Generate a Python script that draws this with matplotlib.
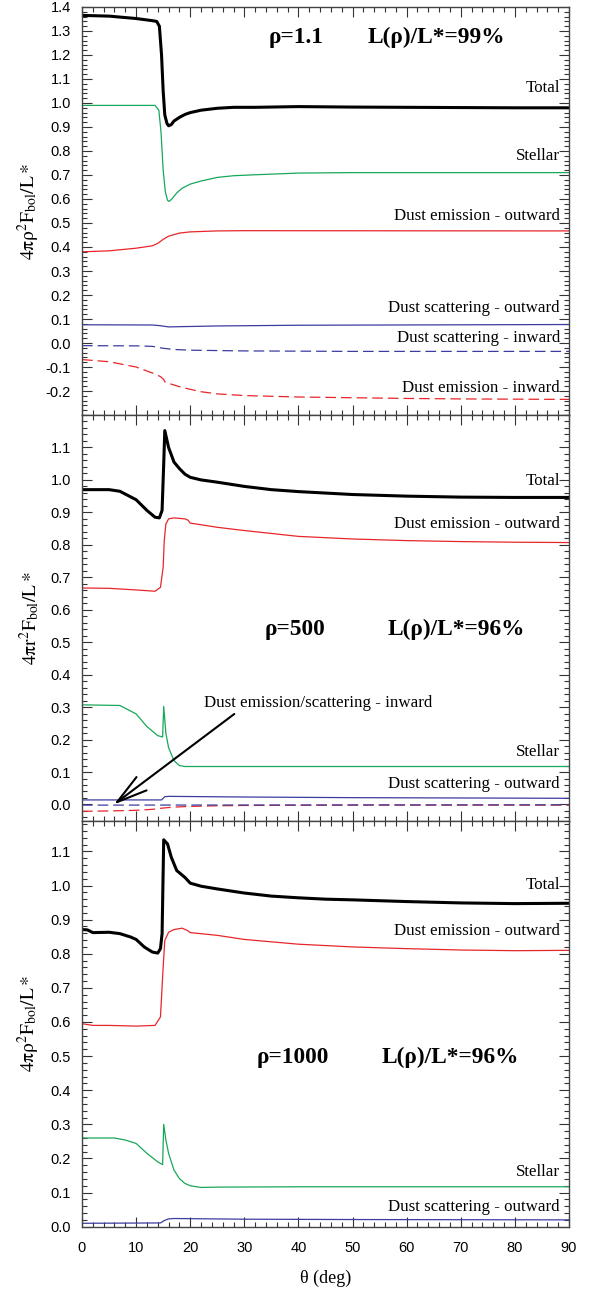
import matplotlib
matplotlib.use("Agg")
import matplotlib.pyplot as plt
from matplotlib.ticker import MultipleLocator

plt.rcParams['mathtext.fontset'] = 'stix'

# ---------------- Data: panel 1 (rho = 1.1) ----------------
p1_total_x = [0, 5, 10, 13, 13.8, 14.3, 14.7, 15.0, 15.3, 15.7, 16.0, 16.5, 17, 18, 19, 20, 22, 25, 28, 32, 40, 50, 60, 70, 80, 90]
p1_total_y = [1.365, 1.362, 1.352, 1.343, 1.34, 1.32, 1.2, 1.05, 0.95, 0.915, 0.905, 0.91, 0.925, 0.94, 0.952, 0.96, 0.97, 0.978, 0.982, 0.982, 0.985, 0.983, 0.982, 0.981, 0.98, 0.98]
p1_stellar_x = [0, 13.5, 14.2, 14.6, 15.0, 15.4, 15.8, 16.1, 16.6, 17.5, 18.5, 20, 22, 25, 28, 32, 40, 50, 60, 90]
p1_stellar_y = [0.99, 0.99, 0.97, 0.88, 0.72, 0.63, 0.595, 0.59, 0.6, 0.625, 0.645, 0.662, 0.675, 0.69, 0.697, 0.701, 0.708, 0.71, 0.71, 0.71]
p1_demo_x = [0, 5, 10, 13, 14, 15, 16, 18, 20, 25, 30, 90]
p1_demo_y = [0.38, 0.384, 0.395, 0.405, 0.415, 0.432, 0.445, 0.458, 0.463, 0.467, 0.468, 0.467]
p1_dsco_x = [0, 13, 14.5, 16, 18, 25, 40, 90]
p1_dsco_y = [0.076, 0.075, 0.072, 0.067, 0.068, 0.071, 0.074, 0.077]
p1_dsci_x = [0, 10, 13, 15, 17, 20, 30, 50, 90]
p1_dsci_y = [-0.011, -0.012, -0.014, -0.022, -0.027, -0.030, -0.033, -0.035, -0.035]
p1_demi_x = [0, 5, 10, 13, 14.5, 15.1, 15.3, 16, 18, 20, 22, 25, 30, 40, 50, 60, 70, 80, 90]
p1_demi_y = [-0.069, -0.078, -0.1, -0.125, -0.14, -0.152, -0.162, -0.168, -0.182, -0.193, -0.203, -0.212, -0.219, -0.225, -0.228, -0.231, -0.233, -0.234, -0.235]

# ---------------- Data: panel 2 (rho = 500) ----------------
p2_total_x = [0, 5, 7, 10, 12, 13.5, 14.3, 14.8, 15.1, 15.3, 16, 17, 18, 19, 20, 22, 25, 30, 35, 40, 50, 60, 70, 80, 90]
p2_total_y = [0.970, 0.970, 0.965, 0.939, 0.906, 0.885, 0.883, 0.906, 1.05, 1.152, 1.10, 1.055, 1.035, 1.018, 1.008, 1.0, 0.993, 0.98, 0.97, 0.964, 0.955, 0.950, 0.947, 0.946, 0.946]
p2_demo_x = [0, 5, 10, 13.5, 14.5, 15, 15.2, 15.5, 16, 17, 19, 19.6, 20, 25, 30, 40, 50, 60, 70, 80, 90]
p2_demo_y = [0.667, 0.666, 0.661, 0.657, 0.669, 0.731, 0.813, 0.864, 0.880, 0.883, 0.880, 0.876, 0.867, 0.854, 0.844, 0.826, 0.818, 0.813, 0.810, 0.808, 0.807]
p2_stellar_x = [0, 7, 10, 12, 14, 14.9, 15.1, 15.5, 16, 17, 18, 19, 20, 30, 90]
p2_stellar_y = [0.307, 0.305, 0.279, 0.240, 0.212, 0.208, 0.302, 0.22, 0.175, 0.135, 0.12, 0.117, 0.117, 0.117, 0.117]
p2_dsco_x = [0, 14.7, 15.3, 16, 30, 50, 90]
p2_dsco_y = [0.014, 0.014, 0.024, 0.025, 0.023, 0.021, 0.019]
p2_dsci_x = [0, 90]
p2_dsci_y = [-0.002, -0.001]
p2_demi_x = [0, 5, 10, 13, 15, 17, 20, 25, 30, 50, 90]
p2_demi_y = [-0.021, -0.020, -0.018, -0.015, -0.011, -0.008, -0.006, -0.004, -0.003, -0.002, -0.002]

# ---------------- Data: panel 3 (rho = 1000) ----------------
p3_total_x = [0, 1, 2, 5, 7, 9, 10, 11.5, 13, 14, 14.5, 14.8, 15.1, 15.8, 16.5, 17.5, 19, 20, 22, 25, 30, 35, 40, 45, 50, 60, 70, 80, 90]
p3_total_y = [0.871, 0.870, 0.862, 0.863, 0.859, 0.849, 0.842, 0.82, 0.805, 0.802, 0.815, 0.859, 1.134, 1.122, 1.083, 1.044, 1.024, 1.007, 0.998, 0.99, 0.978, 0.969, 0.964, 0.96, 0.958, 0.953, 0.949, 0.947, 0.948]
p3_demo_x = [0, 2, 5, 10, 13.5, 14.5, 15, 15.3, 16, 17, 18.5, 19.5, 20, 25, 30, 40, 50, 60, 70, 80, 90]
p3_demo_y = [0.595, 0.590, 0.590, 0.588, 0.59, 0.615, 0.761, 0.839, 0.863, 0.871, 0.875, 0.868, 0.862, 0.854, 0.842, 0.828, 0.820, 0.815, 0.811, 0.809, 0.810]
p3_stellar_x = [0, 6, 8, 10, 12, 14, 14.9, 15.1, 15.5, 16, 17, 18, 19, 20, 22, 25, 40, 60, 90]
p3_stellar_y = [0.26, 0.26, 0.254, 0.244, 0.215, 0.19, 0.182, 0.30, 0.254, 0.215, 0.166, 0.141, 0.127, 0.12, 0.115, 0.116, 0.117, 0.117, 0.117]
p3_dsco_x = [0, 14.5, 15.2, 16, 17, 30, 50, 90]
p3_dsco_y = [0.010, 0.011, 0.018, 0.023, 0.024, 0.022, 0.021, 0.020]

series_labels = ["Total", "Stellar", "Dust emission - outward", "Dust scattering - outward",
                 "Dust scattering - inward", "Dust emission - inward"]
panel_rho = ["\u03c1=1.1", "\u03c1=500", "\u03c1=1000"]
panel_lum = ["L(\u03c1)/L*=99%", "L(\u03c1)/L*=96%", "L(\u03c1)/L*=96%"]
ylabels = [r'$\mathrm{4\pi\rho^2F_{bol}/L*}$', r'$\mathrm{4\pi r^2F_{bol}/L*}$', r'$\mathrm{4\pi\rho^2F_{bol}/L*}$']
x_ticks = [0, 10, 20, 30, 40, 50, 60, 70, 80, 90]

# ---------------- Styles ----------------
BLACK = '#000000'
GREEN = '#17a85a'
RED = '#e8262a'
BLUE = '#3c3ca0'
SERIF = 'Liberation Serif'
SANS = 'Liberation Sans'
DASH = (0, (8.5, 4))
LAB_FS = 12.2
TITLE_FS = 16.8

fig = plt.figure(figsize=(6, 12.89), dpi=100)
L, W = 82 / 600, (569 - 82) / 600
H = 1289
axes = [
    fig.add_axes([L, 1 - 415 / H, W, (415 - 7) / H]),
    fig.add_axes([L, 1 - 820.7 / H, W, (820.7 - 415) / H]),
    fig.add_axes([L, 1 - 1226.7 / H, W, (1226.7 - 820.7) / H]),
]
ylims = [(-0.3, 1.4), (-0.05, 1.2), (0.0, 1.19)]
yticks = [[-0.2 + 0.1 * i for i in range(17)], [0.1 * i for i in range(12)], [0.1 * i for i in range(12)]]

for i, ax in enumerate(axes):
    ax.set_xlim(0, 90)
    ax.set_ylim(*ylims[i])
    ax.set_xticks(x_ticks)
    ax.xaxis.set_minor_locator(MultipleLocator(2))
    ax.set_yticks(yticks[i])
    ax.yaxis.set_minor_locator(MultipleLocator(0.02))
    ax.set_yticklabels(["%.1f" % v if abs(v) > 1e-9 else "0.0" for v in yticks[i]],
                       fontfamily=SANS, fontsize=10.5)
    ax.tick_params(which='both', direction='in', top=True, right=True, color='#333333', width=0.8)
    ax.tick_params(which='major', length=7)
    ax.tick_params(which='minor', length=3.5)
    ax.tick_params(axis='y', pad=8)
    ax.tick_params(axis='x', pad=10)
    for s in ax.spines.values():
        s.set_color('#444444')
        s.set_linewidth(1.0)
    if i < 2:
        ax.set_xticklabels([])
    else:
        ax.set_xticklabels([str(v) for v in x_ticks], fontfamily=SANS, fontsize=10.5)
    ax.set_ylabel(ylabels[i], fontsize=14)
    ax.yaxis.set_label_coords(-0.083, 0.5)

# Panel 1
a = axes[0]
a.plot(p1_total_x, p1_total_y, color=BLACK, lw=2.2)
a.plot(p1_stellar_x, p1_stellar_y, color=GREEN, lw=0.9)
a.plot(p1_demo_x, p1_demo_y, color=RED, lw=0.9)
a.plot(p1_dsco_x, p1_dsco_y, color=BLUE, lw=0.9)
a.plot(p1_dsci_x, p1_dsci_y, color=BLUE, lw=0.9, linestyle=DASH)
a.plot(p1_demi_x, p1_demi_y, color=RED, lw=0.9, linestyle=DASH)
lab1_y = [1.063, 0.78, 0.528, 0.145, 0.022, -0.189]
for t, y in zip(series_labels, lab1_y):
    a.text(88.3, y, t, ha='right', va='center', fontfamily=SERIF, fontsize=LAB_FS)
a.text(34.4, 1.274, panel_rho[0], ha='left', va='center', fontfamily=SERIF, fontsize=TITLE_FS, fontweight='bold')
a.text(52.7, 1.274, panel_lum[0], ha='left', va='center', fontfamily=SERIF, fontsize=TITLE_FS, fontweight='bold')

# Panel 2
a = axes[1]
a.plot(p2_total_x, p2_total_y, color=BLACK, lw=2.2)
a.plot(p2_demo_x, p2_demo_y, color=RED, lw=0.9)
a.plot(p2_stellar_x, p2_stellar_y, color=GREEN, lw=0.9)
a.plot(p2_dsco_x, p2_dsco_y, color=BLUE, lw=0.9)
a.plot(p2_demi_x, p2_demi_y, color=RED, lw=0.9, linestyle=DASH)
a.plot(p2_dsci_x, p2_dsci_y, color=BLUE, lw=0.9, linestyle=DASH)
a.text(88.3, 0.996, series_labels[0], ha='right', va='center', fontfamily=SERIF, fontsize=LAB_FS)
a.text(88.3, 0.863, series_labels[2], ha='right', va='center', fontfamily=SERIF, fontsize=LAB_FS)
a.text(88.3, 0.163, series_labels[1], ha='right', va='center', fontfamily=SERIF, fontsize=LAB_FS)
a.text(88.3, 0.064, series_labels[3], ha='right', va='center', fontfamily=SERIF, fontsize=LAB_FS)
a.text(33.8, 0.538, panel_rho[1], ha='left', va='center', fontfamily=SERIF, fontsize=TITLE_FS, fontweight='bold')
a.text(56.4, 0.538, panel_lum[1], ha='left', va='center', fontfamily=SERIF, fontsize=TITLE_FS, fontweight='bold')
a.annotate("Dust emission/scattering - inward", xy=(5.9, 0.0), xytext=(22.5, 0.312),
           ha='left', va='center', fontfamily=SERIF, fontsize=LAB_FS,
           arrowprops=dict(arrowstyle='->,head_length=2.2,head_width=0.6', color='black', lw=1.5,
                           shrinkA=0, shrinkB=0, relpos=(0.15, 0.0), mutation_scale=10))

# Panel 3
a = axes[2]
a.plot(p3_total_x, p3_total_y, color=BLACK, lw=2.2)
a.plot(p3_demo_x, p3_demo_y, color=RED, lw=0.9)
a.plot(p3_stellar_x, p3_stellar_y, color=GREEN, lw=0.9)
a.plot(p3_dsco_x, p3_dsco_y, color=BLUE, lw=0.9)
a.text(88.3, 1.002, series_labels[0], ha='right', va='center', fontfamily=SERIF, fontsize=LAB_FS)
a.text(88.3, 0.866, series_labels[2], ha='right', va='center', fontfamily=SERIF, fontsize=LAB_FS)
a.text(88.3, 0.159, series_labels[1], ha='right', va='center', fontfamily=SERIF, fontsize=LAB_FS)
a.text(88.3, 0.0585, series_labels[3], ha='right', va='center', fontfamily=SERIF, fontsize=LAB_FS)
a.text(32.3, 0.495, panel_rho[2], ha='left', va='center', fontfamily=SERIF, fontsize=TITLE_FS, fontweight='bold')
a.text(55.3, 0.495, panel_lum[2], ha='left', va='center', fontfamily=SERIF, fontsize=TITLE_FS, fontweight='bold')
a.set_xlabel("\u03b8 (deg)", fontfamily=SERIF, fontsize=13, labelpad=11)

fig.savefig("out.png", dpi=100)
